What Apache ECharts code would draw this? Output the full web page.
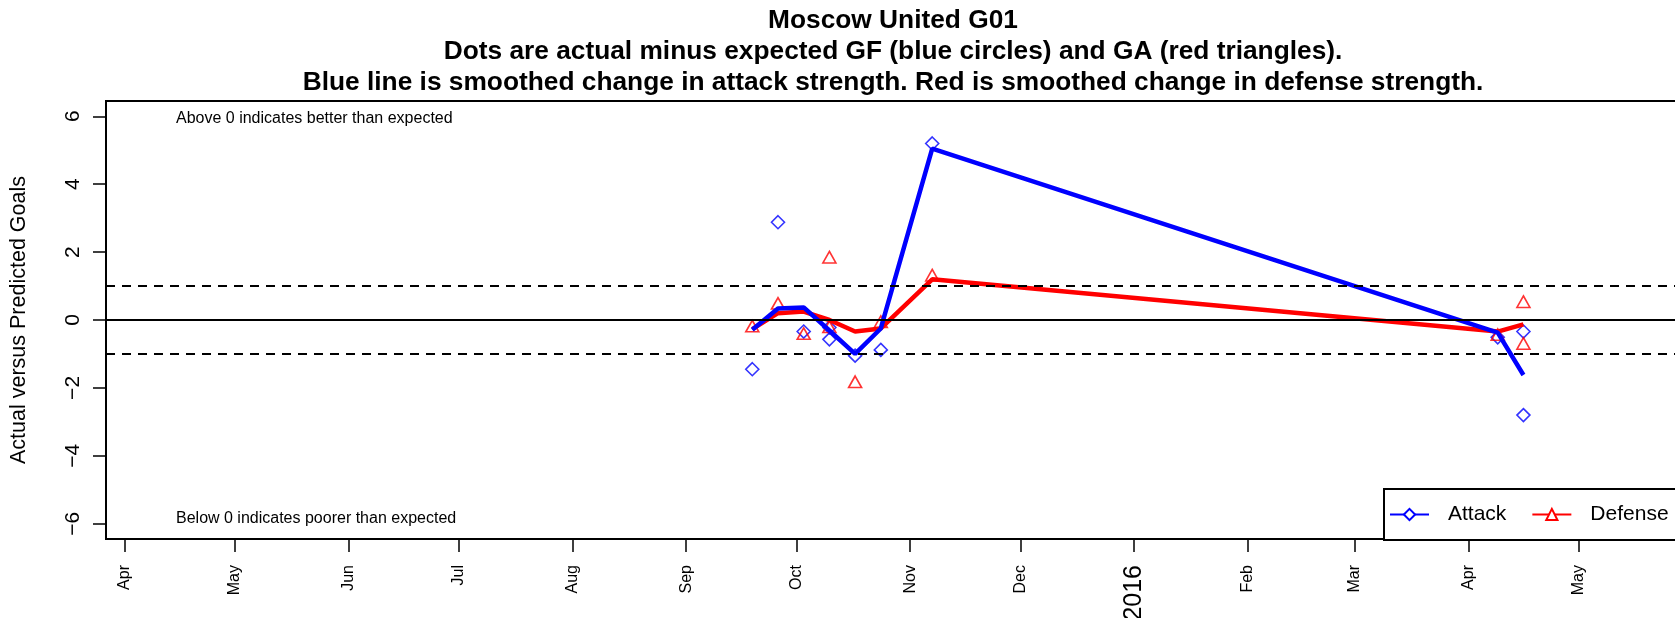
<!DOCTYPE html>
<html>
<head>
<meta charset="utf-8">
<script src="https://cdn.jsdelivr.net/npm/echarts@6/dist/echarts.min.js"></script>
<style>
  html, body { margin: 0; padding: 0; background: #fff; }
  #chart { width: 1675px; height: 618px; }
</style>
</head>
<body>
<div id="chart"></div>
<script>
// title lines
const titleLines = [
  'Moscow United G01',
  'Dots are actual minus expected GF (blue circles) and GA (red triangles).',
  'Blue line is smoothed change in attack strength. Red is smoothed change in defense strength.'
];

// actual minus expected goals for (blue diamonds)
const attackPtDates = ['2015-09-19', '2015-09-26', '2015-10-03', '2015-10-10', '2015-10-10', '2015-10-17', '2015-10-24', '2015-11-07', '2016-04-09', '2016-04-16', '2016-04-16'];
const attackPtValues = [-1.45, 2.88, -0.34, -0.57, -0.22, -1.05, -0.88, 5.20, -0.51, -0.34, -2.80];

// actual minus expected goals against (red triangles)
const defensePtDates = ['2015-09-19', '2015-09-26', '2015-10-03', '2015-10-10', '2015-10-10', '2015-10-17', '2015-10-24', '2015-11-07', '2016-04-09', '2016-04-16', '2016-04-16'];
const defensePtValues = [-0.18, 0.49, -0.40, 1.85, -0.20, -1.82, -0.05, 1.32, -0.43, 0.54, -0.69];

// smoothed strength changes
const lineDates = ['2015-09-19', '2015-09-26', '2015-10-03', '2015-10-10', '2015-10-17', '2015-10-24', '2015-11-07', '2016-04-09', '2016-04-16'];
const attackSmooth = [-0.29, 0.34, 0.37, -0.31, -1.00, -0.25, 5.05, -0.37, -1.62];
const defenseSmooth = [-0.27, 0.20, 0.25, 0.00, -0.34, -0.25, 1.20, -0.34, -0.13];

// axis ticks
const tickDates = ['2015-04-01', '2015-05-01', '2015-06-01', '2015-07-01', '2015-08-01', '2015-09-01', '2015-10-01', '2015-11-01', '2015-12-01', '2016-01-01', '2016-02-01', '2016-03-01', '2016-04-01', '2016-05-01'];
const tickLabels = ['Apr', 'May', 'Jun', 'Jul', 'Aug', 'Sep', 'Oct', 'Nov', 'Dec', '2016', 'Feb', 'Mar', 'Apr', 'May'];
const yTicks = [-6, -4, -2, 0, 2, 4, 6];
const xRange = ['2015-03-27', '2016-05-30'];

const FONT = '"Liberation Sans", Arial, Helvetica, sans-serif';
const ms = s => Date.parse(s);
const pairs = (dates, vals) => dates.map((d, i) => [ms(d), vals[i]]);
const tickMs = tickDates.map(ms);

const chart = echarts.init(document.getElementById('chart'));

const option = {
  animation: false,
  backgroundColor: '#fff',
  textStyle: { fontFamily: FONT },
  title: {
    text: titleLines.join('\n'),
    left: 893,
    top: 5,
    textAlign: 'center',
    padding: 0,
    textStyle: { fontFamily: FONT, fontSize: 26.3, fontWeight: 'bold', lineHeight: 31, color: '#000' }
  },
  legend: {
    data: ['Attack', 'Defense'],
    orient: 'horizontal',
    left: 1384,
    top: 489,
    width: 360,
    itemWidth: 39,
    itemHeight: 14,
    itemGap: 25,
    padding: [15, 40, 15, 5],
    borderColor: '#000',
    borderWidth: 2,
    backgroundColor: '#fff',
    lineStyle: { width: 2 },
    textStyle: { fontFamily: FONT, fontSize: 21, lineHeight: 20, color: '#000', padding: [0, 0, 0, 14] }
  },
  grid: {
    left: 106, top: 101, right: -10, bottom: 79,
    outerBoundsMode: 'none',
    show: true, borderColor: '#000', borderWidth: 2
  },
  xAxis: {
    type: 'value',
    min: ms(xRange[0]),
    max: ms(xRange[1]),
    splitLine: { show: false },
    axisLine: { show: true, onZero: false, lineStyle: { color: '#000', width: 2 } },
    axisTick: { show: true, length: 13, customValues: tickMs, lineStyle: { color: '#000', width: 1.5 } },
    axisLabel: {
      customValues: tickMs,
      rotate: 90,
      margin: 26,
      fontSize: 16,
      color: '#000',
      formatter: v => {
        const lab = tickLabels[tickMs.indexOf(v)] || '';
        return /^\d{4}$/.test(lab) ? '{big|' + lab + '}' : lab;
      },
      rich: { big: { fontSize: 25, color: '#000', fontFamily: FONT } }
    }
  },
  yAxis: {
    type: 'value',
    min: -6.45,
    max: 6.45,
    splitLine: { show: false },
    axisLine: { show: true, lineStyle: { color: '#000', width: 2 } },
    axisTick: { show: true, length: 13, customValues: yTicks, lineStyle: { color: '#000', width: 1.5 } },
    axisLabel: {
      customValues: yTicks,
      rotate: 90,
      margin: 22,
      fontSize: 21,
      color: '#000',
      formatter: v => (v < 0 ? '\u2212' + (-v) : String(v))
    },
    name: 'Actual versus Predicted Goals',
    nameLocation: 'middle',
    nameGap: 76,
    nameTextStyle: { fontFamily: FONT, fontSize: 21.5, color: '#000' }
  },
  graphic: [
    { type: 'text', left: 176, top: 111, style: { text: 'Above 0 indicates better than expected', fontFamily: FONT, fontSize: 16, fill: '#000' } },
    { type: 'text', left: 176, top: 511, style: { text: 'Below 0 indicates poorer than expected', fontFamily: FONT, fontSize: 16, fill: '#000' } }
  ],
  series: [
    {
      name: 'ref',
      type: 'line',
      data: [],
      silent: true,
      markLine: {
        silent: true,
        symbol: 'none',
        label: { show: false },
        data: [
          { yAxis: 0, lineStyle: { color: '#000', width: 2, type: 'solid' } },
          { yAxis: 1, lineStyle: { color: '#000', width: 2, type: [9, 7] } },
          { yAxis: -1, lineStyle: { color: '#000', width: 2, type: [9, 7] } }
        ]
      }
    },
    {
      name: 'GF',
      type: 'scatter',
      symbol: 'diamond',
      symbolSize: 13,
      itemStyle: { color: 'rgba(0,0,0,0)', borderColor: '#0000ff', borderWidth: 1.6 },
      data: pairs(attackPtDates, attackPtValues)
    },
    {
      name: 'GA',
      type: 'scatter',
      symbol: 'triangle',
      symbolSize: [13, 11.5],
      itemStyle: { color: 'rgba(0,0,0,0)', borderColor: '#ff0000', borderWidth: 1.6 },
      data: pairs(defensePtDates, defensePtValues)
    },
    {
      name: 'Defense',
      type: 'line',
      symbol: 'emptyTriangle',
      showSymbol: false,
      color: '#ff0000',
      lineStyle: { color: '#ff0000', width: 4.5 },
      data: pairs(lineDates, defenseSmooth)
    },
    {
      name: 'Attack',
      type: 'line',
      symbol: 'emptyDiamond',
      showSymbol: false,
      color: '#0000ff',
      lineStyle: { color: '#0000ff', width: 4.5 },
      data: pairs(lineDates, attackSmooth)
    }
  ]
};

chart.setOption(option);
</script>
</body>
</html>
